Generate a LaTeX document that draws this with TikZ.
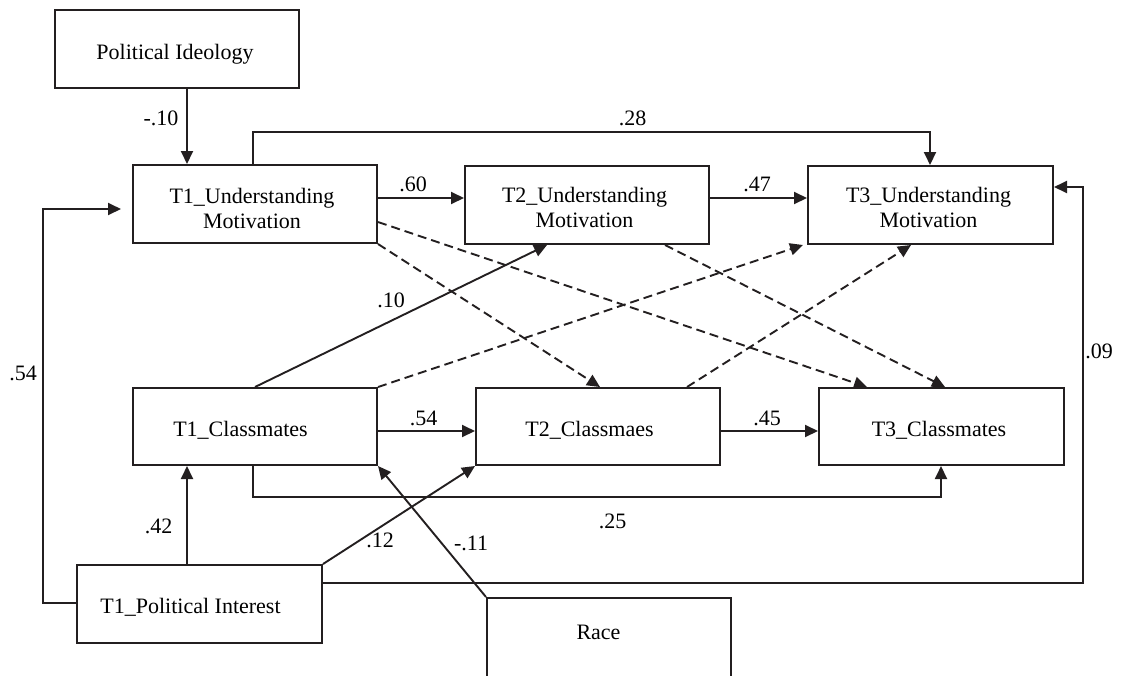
\documentclass[tikz,border=0pt]{standalone}
\usepackage{fontspec}
\setmainfont{Liberation Serif}
\usetikzlibrary{arrows.meta}
\definecolor{ink}{RGB}{35,31,32}
\begin{document}
\begin{tikzpicture}[x=1pt,y=-1pt,
  box/.style={draw=ink, line width=2pt, inner sep=0pt, anchor=north west,
    minimum width=244pt, minimum height=78pt},
  txt/.style={inner sep=0pt, font=\fontsize{22}{25}\selectfont, text=black, align=center},
  lbl/.style={inner sep=0pt, font=\fontsize{22}{25}\selectfont, text=black},
  conn/.style={draw=ink, line width=1.9pt},
  arr/.style={conn, -{Triangle[length=13pt,width=12pt]}},
  dasharr/.style={arr, dash pattern=on 9pt off 5pt}
]
\useasboundingbox (0,0) rectangle (1123,675);
\clip (0,0) rectangle (1123,675);

% boxes
\node[box] (pideo) at (54,9) {};
\node[box] (t1um) at (132,164) {};
\node[box] (t2um) at (464,165) {};
\node[box, minimum width=245pt] (t3um) at (807,165) {};
\node[box, minimum height=77pt] (t1c) at (132,387) {};
\node[box, minimum height=77pt] (t2c) at (475,387) {};
\node[box, minimum height=77pt, minimum width=245pt] (t3c) at (818,387) {};
\node[box, minimum width=245pt] (t1pi) at (76,564) {};
\node[box, minimum height=100pt] (race) at (486,597) {};

% box texts
\node[txt, anchor=base] (pideot) at (175,59) {Political Ideology};
\node[txt] (t1umt) at (252,208) {T1\_Understanding\\Motivation};
\node[txt] (t2umt) at (584.5,207) {T2\_Understanding\\Motivation};
\node[txt] (t3umt) at (928.5,207) {T3\_Understanding\\Motivation};
\node[txt, anchor=base] (t1ct) at (240.5,436) {T1\_Classmates};
\node[txt, anchor=base] (t2ct) at (589.5,436) {T2\_Classmaes};
\node[txt, anchor=base] (t3ct) at (939,436) {T3\_Classmates};
\node[txt, anchor=base] (t1pit) at (190.5,613) {T1\_Political Interest};
\node[txt, anchor=base] (racet) at (598.5,639) {Race};

% solid paths
\draw[arr] (pideo.south -| 187,0) -- (t1um.north -| 187,0);
\draw[arr] (t1um.north -| 253,0) -- (253,132) -| (t3um.north -| 930,0);
\draw[arr] (t1um.east |- 0,198) -- (t2um.west |- 0,198);
\draw[arr] (t2um.east |- 0,198) -- (t3um.west |- 0,198);
\draw[arr] (t1c.east |- 0,431) -- (t2c.west |- 0,431);
\draw[arr] (t2c.east |- 0,431) -- (t3c.west |- 0,431);
\draw[arr] (t1pi.north -| 187,0) -- (t1c.south -| 187,0);
\draw[arr] (t1pi.north east) -- (t2c.south west);
\draw[arr] (race.north west) -- (t1c.south east);
\draw[arr] (t1c.south -| 253,0) -- (253,497) -| (t3c.south -| 941,0);
\draw[arr, shorten >=11pt] (t1pi.west |- 0,603) -- (43,603) |- (t1um.west |- 0,209);
\draw[arr] (t1pi.east |- 0,583) -- (1083,583) |- (t3um.east |- 0,187);
\draw[arr] (t1c.north -| 255,0) -- (t2um.south -| 547,0);

% dashed paths
\draw[dasharr] (t1um.east |- 0,222) -- (t3c.north -| 867,0);
\draw[dasharr] (t1um.south east) -- (t2c.north -| 600,0);
\draw[dasharr] (t2um.south -| 665,0) -- (t3c.north -| 945,0);
\draw[dasharr] (t1c.north east) -- (t3um.south -| 803,0);
\draw[dasharr] (t2c.north -| 687,0) -- (t3um.south -| 911,0);

% coefficients
\node[lbl] (l1) at (161,118) {-.10};
\node[lbl] (l2) at (632.5,118.5) {.28};
\node[lbl] (l3) at (413,184.5) {.60};
\node[lbl] (l4) at (757,184.5) {.47};
\node[lbl] (l5) at (391,300) {.10};
\node[lbl] (l6) at (23,373) {.54};
\node[lbl] (l7) at (1099,351) {.09};
\node[lbl] (l8) at (423.5,418.5) {.54};
\node[lbl] (l9) at (767,418.5) {.45};
\node[lbl] (l10) at (158.5,526.5) {.42};
\node[lbl] (l11) at (380,540.5) {.12};
\node[lbl] (l12) at (471,543) {-.11};
\node[lbl] (l13) at (612.5,521.5) {.25};
\end{tikzpicture}
\end{document}
